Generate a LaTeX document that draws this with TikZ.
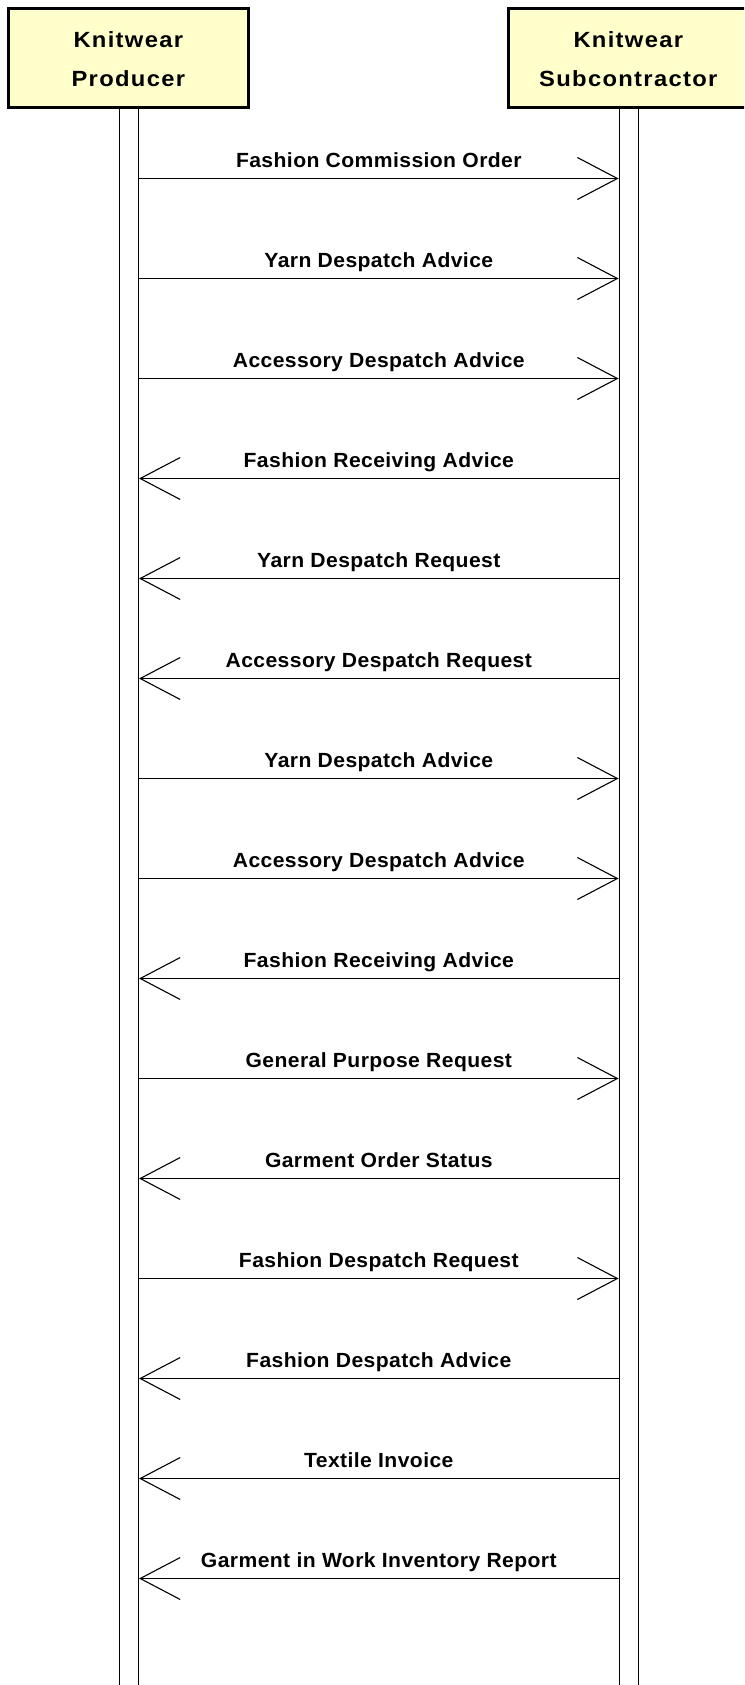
\documentclass[tikz,border=0pt]{standalone}
\usepackage{fontspec}
\newfontfamily\hdrfont{Liberation Sans}[LetterSpace=6, FakeStretch=1.08]
\newfontfamily\msgfont{Liberation Sans}[LetterSpace=2, FakeStretch=1.03]
\usetikzlibrary{arrows.meta}
\definecolor{actorfill}{HTML}{FFFFCC}
\tikzset{
  actorbox/.style={draw=black, line width=3pt, fill=actorfill, minimum width=240.3pt, minimum height=99.3pt, inner sep=0pt},
  hdr/.style={font=\hdrfont\bfseries\fontsize{22}{26}\selectfont, anchor=base, inner sep=0pt},
  lifeline/.style={draw=black, line width=1.5pt, fill=white, minimum width=19pt, minimum height=1620pt, anchor=north, inner sep=0pt},
  msg/.style={line width=1.9pt, -{Straight Barb[length=40pt, width=42pt, line width=1.1pt]}},
  lbl/.style={font=\msgfont\bfseries\fontsize{20.5}{24}\selectfont, anchor=base, inner sep=0pt, yshift=11pt}
}
\begin{document}
\begin{tikzpicture}[x=1pt, y=-1pt]
\useasboundingbox (0,0) rectangle (744,1685);
\clip (0,0) rectangle (744,1685);
% lifelines
\node[lifeline] (pl) at (128.8,105) {};
\node[lifeline] (sl) at (628.8,105) {};
% actor boxes
\node[actorbox] (prod) at (128.35,57.85) {};
\node[actorbox] (sub) at (628.35,57.85) {};
\node[hdr] (prod1) at (128.3,47.3) {Knitwear};
\node[hdr] (prod2) at (128.3,87) {Producer};
\node[hdr] (sub1) at (628.3,47.3) {Knitwear};
\node[hdr] (sub2) at (628.3,87) {Subcontractor};
% messages
\foreach \i/\d/\t in {
  0/R/Fashion Commission Order,
  1/R/Yarn Despatch Advice,
  2/R/Accessory Despatch Advice,
  3/L/Fashion Receiving Advice,
  4/L/Yarn Despatch Request,
  5/L/Accessory Despatch Request,
  6/R/Yarn Despatch Advice,
  7/R/Accessory Despatch Advice,
  8/L/Fashion Receiving Advice,
  9/R/General Purpose Request,
  10/L/Garment Order Status,
  11/R/Fashion Despatch Request,
  12/L/Fashion Despatch Advice,
  13/L/Textile Invoice,
  14/L/Garment in Work Inventory Report}{
  \coordinate (a\i) at (pl.east |- 0,{178.5+100*\i});
  \coordinate (b\i) at (sl.west |- 0,{178.5+100*\i});
  \if\d R
    \draw[msg] (a\i) -- (b\i) node[lbl, pos=0.5] {\t};
  \else
    \draw[msg] (b\i) -- (a\i) node[lbl, pos=0.5] {\t};
  \fi
}
\end{tikzpicture}
\end{document}
